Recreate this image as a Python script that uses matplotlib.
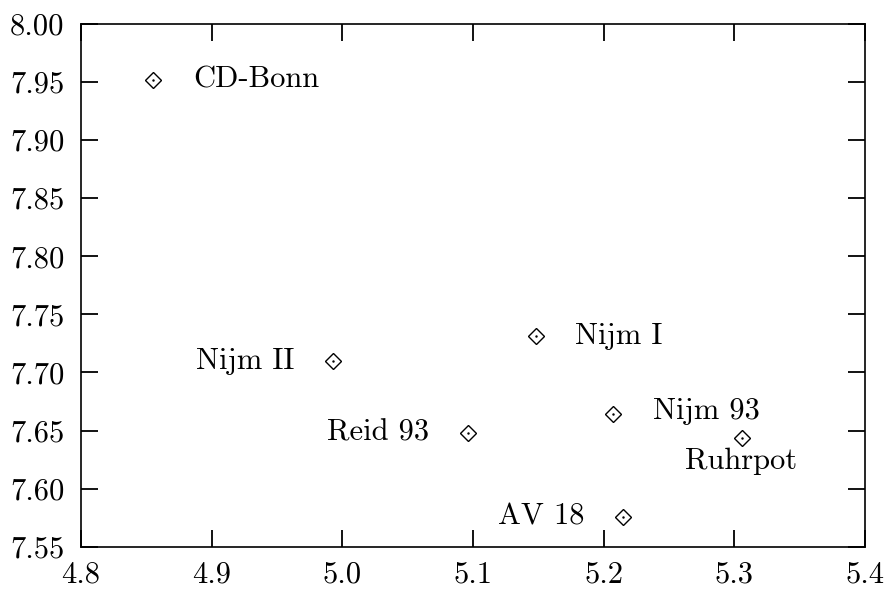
import matplotlib
matplotlib.use("Agg")
import matplotlib.pyplot as plt

plt.rcParams['font.family'] = 'cmr10'
plt.rcParams['mathtext.fontset'] = 'cm'
plt.rcParams['axes.formatter.use_mathtext'] = True

models = ["CD-Bonn", "Nijm II", "Nijm I", "Reid 93", "Nijm 93", "Ruhrpot", "AV 18"]
x_vals = [4.855, 4.993, 5.148, 5.096, 5.207, 5.306, 5.215]
y_vals = [7.952, 7.710, 7.731, 7.648, 7.664, 7.644, 7.576]
# label offsets in points (dx, dy) and horizontal alignment
offsets = [(29, 0, 'left'), (-28, 0, 'right'), (28, 0, 'left'), (-28, 0, 'right'),
           (29, 2, 'left'), (-41, -17, 'left'), (-28, 0, 'right')]

x_ticks = [4.8, 4.9, 5.0, 5.1, 5.2, 5.3, 5.4]
y_ticks = [7.55, 7.60, 7.65, 7.70, 7.75, 7.80, 7.85, 7.90, 7.95, 8.00]

fig = plt.figure(figsize=(8.95, 5.92), dpi=100)
ax = fig.add_axes([0.0905, 0.0765, 0.876, 0.883])

ax.plot(x_vals, y_vals, linestyle='none', marker='D', ms=8.5, mfc='none', mec='black', mew=1.0)
ax.plot(x_vals, y_vals, linestyle='none', marker='.', ms=1.5, color='black')

for name, x, y, (dx, dy, ha) in zip(models, x_vals, y_vals, offsets):
    ax.annotate(name, (x, y), xytext=(dx, dy), textcoords='offset points',
                ha=ha, va='center', fontsize=22)

ax.set_xlim(4.8, 5.4)
ax.set_ylim(7.55, 8.00)
ax.set_xticks(x_ticks)
ax.set_yticks(y_ticks)
ax.set_xticklabels([f"{v:.1f}" for v in x_ticks])
ax.set_yticklabels([f"{v:.2f}" for v in y_ticks])
ax.tick_params(direction='in', length=12, width=1.3, top=True, right=True,
               labelsize=22)
ax.tick_params(axis='y', pad=12)
ax.tick_params(axis='x', pad=10)
for s in ax.spines.values():
    s.set_linewidth(1.2)

fig.savefig("out.png", dpi=100)
